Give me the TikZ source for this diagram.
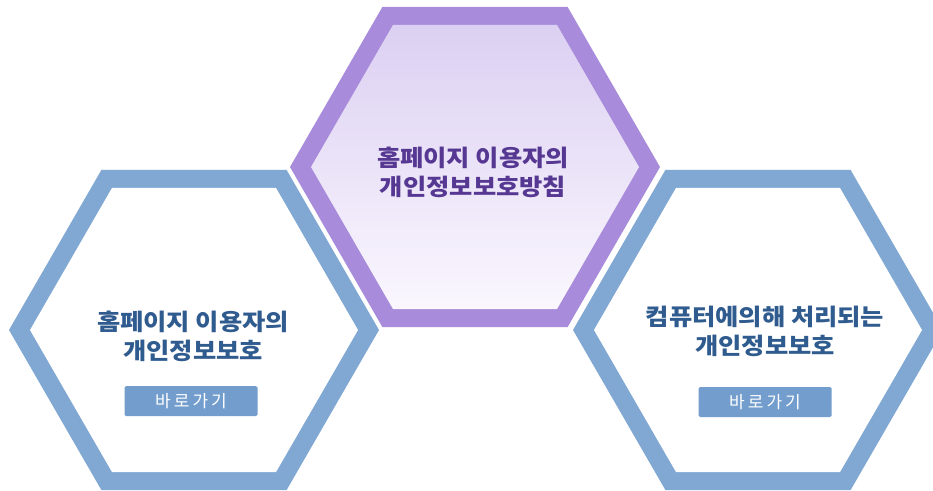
\documentclass[tikz,border=0pt]{standalone}
\usepackage{fontspec}
\setmainfont{Noto Sans CJK KR}
\newfontfamily\titlefont[FakeStretch=1.1]{Noto Sans CJK KR}
\newfontfamily\btnfont[LetterSpace=18]{Noto Sans CJK KR}
\usetikzlibrary{shapes.geometric}
\definecolor{blueband}{HTML}{80A8D3}
\definecolor{purpleband}{HTML}{A88BDA}
\definecolor{purpletop}{HTML}{DCD0F2}
\definecolor{purplebot}{HTML}{FAF7FE}
\definecolor{bluetext}{HTML}{2F5B8F}
\definecolor{purpletext}{HTML}{563893}
\definecolor{btnfill}{HTML}{729DCD}
\tikzset{
  hexshape/.style={regular polygon, regular polygon sides=6, inner sep=0pt, outer sep=0pt, draw=none},
  hexout/.style={hexshape, minimum size=370pt},
  hexin/.style={hexshape, minimum size=328pt},
  title/.style={align=center, font=\titlefont\bfseries\fontsize{23}{29}\selectfont},
  btn/.style={fill=btnfill, rounded corners=1.5pt, minimum width=133pt, minimum height=30pt, inner sep=0pt, text=white, font=\btnfont\fontsize{17}{17}\selectfont}
}
\begin{document}
\begin{tikzpicture}[x=1pt,y=-1pt]
\clip (0,0) rectangle (933,490);
\fill[white] (0,0) rectangle (933,490);
% left hexagon
\node[hexout, fill=blueband] (L) at (194,330) {};
\node[hexin, fill=white] (Li) at (L) {};
\node[title, text=bluetext] (Lt) at (193,336) {홈페이지 이용자의\\개인정보보호};
\node[btn] (Lb) at (191,401) {바로가기};
% center hexagon
\node[hexout, fill=purpleband] (C) at (475,167) {};
\node[hexin, top color=purpletop, bottom color=purplebot] (Ci) at (C) {};
\node[title, text=purpletext] (Ct) at (473,172) {홈페이지 이용자의\\개인정보보호방침};
% right hexagon
\node[hexout, fill=blueband] (R) at (758,330) {};
\node[hexin, fill=white] (Ri) at (R) {};
\node[title, text=bluetext] (Rt) at (765,331) {컴퓨터에의해 처리되는\\개인정보보호};
\node[btn] (Rb) at (765,402) {바로가기};
\end{tikzpicture}
\end{document}
